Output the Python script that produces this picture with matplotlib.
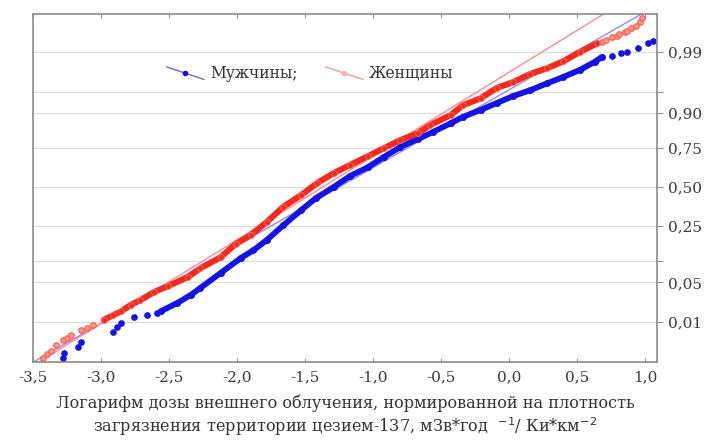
import matplotlib
matplotlib.use("Agg")
import matplotlib.pyplot as plt
from matplotlib.lines import Line2D
from matplotlib.legend_handler import HandlerLine2D
from statistics import NormalDist

plt.rcParams["font.family"] = ["DejaVu Serif"]

# Log dose values (x) against expected normal values (z)
# Men: sparse lower tail, continuous body, sparse upper tail
men_low_x = [-3.28, -3.27, -3.17, -3.15, -2.91, -2.88, -2.85, -2.76, -2.66, -2.59]
men_low_z = [-2.95, -2.86, -2.76, -2.67, -2.50, -2.41, -2.34, -2.24, -2.21, -2.17]
men_x = [-2.56, -2.44, -2.34, -2.27, -2.12, -1.97, -1.88, -1.78, -1.66, -1.53,
         -1.42, -1.29, -1.17, -1.04, -0.92, -0.80, -0.67, -0.56, -0.43, -0.34,
         -0.21, -0.09, 0.03, 0.155, 0.28, 0.40, 0.52, 0.63, 0.68]
men_z = [-2.14, -2.00, -1.86, -1.74, -1.48, -1.22, -1.09, -0.91, -0.66, -0.40,
         -0.19, 0.00, 0.19, 0.34, 0.52, 0.69, 0.83, 0.95, 1.10, 1.21,
         1.33, 1.45, 1.57, 1.67, 1.79, 1.90, 2.02, 2.16, 2.24]
men_high_x = [0.76, 0.82, 0.87, 0.95, 1.02, 1.06]
men_high_z = [2.26, 2.31, 2.33, 2.40, 2.48, 2.52]

# Women
women_low_x = [-3.43, -3.40, -3.37, -3.33, -3.28, -3.25, -3.22, -3.15, -3.10, -3.06]
women_low_z = [-2.95, -2.88, -2.83, -2.72, -2.64, -2.60, -2.55, -2.47, -2.43, -2.38]
women_x = [-2.98, -2.91, -2.85, -2.78, -2.71, -2.61, -2.51, -2.36, -2.27, -2.12,
           -2.01, -1.90, -1.78, -1.66, -1.53, -1.41, -1.29, -1.17, -1.04, -0.92,
           -0.80, -0.67, -0.58, -0.43, -0.34, -0.21, -0.09, 0.03, 0.155, 0.28,
           0.40, 0.52, 0.65]
women_z = [-2.29, -2.21, -2.14, -2.03, -1.95, -1.81, -1.71, -1.55, -1.40, -1.21,
           -0.98, -0.83, -0.60, -0.34, -0.14, 0.07, 0.24, 0.38, 0.53, 0.67,
           0.81, 0.93, 1.07, 1.24, 1.41, 1.53, 1.71, 1.81, 1.95, 2.05,
           2.17, 2.33, 2.48]
women_high_x = [0.68, 0.71, 0.76, 0.79, 0.81, 0.85, 0.87, 0.90, 0.93, 0.96, 0.98]
women_high_z = [2.50, 2.53, 2.59, 2.61, 2.64, 2.67, 2.69, 2.74, 2.78, 2.84, 2.91]

# Fitted normal distributions (mean, sd) of the log dose
men_fit = (-1.25, 0.745)
women_fit = (-1.37, 0.692)

prob_ticks = [0.01, 0.05, 0.10, 0.25, 0.50, 0.75, 0.90, 0.95, 0.99]
prob_labels = ["0,01", "0,05", "", "0,25", "0,50", "0,75", "0,90", "", "0,99"]
x_ticks = [-3.5, -3.0, -2.5, -2.0, -1.5, -1.0, -0.5, 0.0, 0.5, 1.0]

legend_labels = ["Мужчины;", "Женщины"]
xlabel = ("Логарифм дозы внешнего облучения, нормированной на плотность\n"
          "загрязнения территории цезием-137, мЗв*год  $^{-1}$/ Ки*км$^{-2}$")

BLUE = "#1414e6"
RED = "#f52a1e"
BLUE_FIT = "#8c8cff"
RED_FIT = "#ff8c8c"

fig = plt.figure(figsize=(7.05, 4.41), dpi=100)
ax = fig.add_axes([0.0468, 0.179, 0.8852, 0.789])

nd = NormalDist()
zt = [nd.inv_cdf(p) for p in prob_ticks]

for z in zt:
    ax.axhline(z, color="#dcdcdc", lw=0.8, zorder=0)

z_lo, z_hi = -3.3, 3.3
for (m, s), c in ((men_fit, BLUE_FIT), (women_fit, RED_FIT)):
    ax.plot([m + s * z_lo, m + s * z_hi], [z_lo, z_hi], color=c, lw=1.0, zorder=1)

# men
ax.plot(men_x, men_z, color=BLUE, lw=4.2, marker="o", ms=4, zorder=2,
        solid_capstyle="round")
ax.plot(men_low_x + men_high_x, men_low_z + men_high_z, ls="none", marker="o",
        ms=3.8, color=BLUE, zorder=2)
# women
ax.plot(women_x, women_z, color=RED, lw=4.4, marker="o", ms=4.2, mfc=RED,
        mec="#ff7060", mew=0.6, zorder=3, solid_capstyle="round")
ax.plot(women_low_x + women_high_x, women_low_z + women_high_z, ls="none",
        marker="o", ms=4.0, mfc="#ff9a8c", mec="#ff5a4a", mew=0.8, zorder=3)

ax.set_xlim(-3.5, 1.088)
ax.set_ylim(-3.017, 2.983)

ax.set_xticks(x_ticks)
ax.set_xticklabels([f"{v:.1f}".replace(".", ",") for v in x_ticks])
ax.tick_params(axis="x", direction="in", length=3, width=0.8, color="#999999",
               top=True, labelsize=11, labelcolor="#3a3a3a", pad=6)
ax.yaxis.tick_right()
ax.set_yticks(zt)
ax.set_yticklabels(prob_labels)
ax.tick_params(axis="y", direction="out", length=4, width=0.8, color="#999999",
               labelsize=11, labelcolor="#3a3a3a", pad=4)

for sp in ax.spines.values():
    sp.set_color("#8a8a8a")
    sp.set_linewidth(1.2)

ax.set_xlabel(xlabel, fontsize=11.6, color="#333333", linespacing=1.2,
              labelpad=7)


class SlantHandler(HandlerLine2D):
    def create_artists(self, legend, orig_handle, xdescent, ydescent, width,
                       height, fontsize, trans):
        x0, x1 = -xdescent, width - xdescent
        y0, y1 = height * 1.0 - ydescent, -ydescent - 0.15 * height
        c = orig_handle.get_color()
        line = Line2D([x0, x1], [y0, y1], color=orig_handle.get_markerfacecolor(),
                      lw=1.0)
        dot = Line2D([(x0 + x1) / 2], [(y0 + y1) / 2], ls="none", marker="o",
                     ms=3, color=c)
        line.set_transform(trans)
        dot.set_transform(trans)
        return [line, dot]


h_men = Line2D([], [], color=BLUE, mfc="#6a6ae0")
h_women = Line2D([], [], color="#ffb0a8", mfc="#ff9a9a")
ax.legend([h_men, h_women], legend_labels, loc="center",
          bbox_to_anchor=(0.444, 0.83), ncol=2, frameon=False, fontsize=11.2,
          handler_map={Line2D: SlantHandler()}, handlelength=2.4,
          columnspacing=1.8, handletextpad=0.4, labelcolor="#333333")

fig.savefig("out.png", dpi=100)
